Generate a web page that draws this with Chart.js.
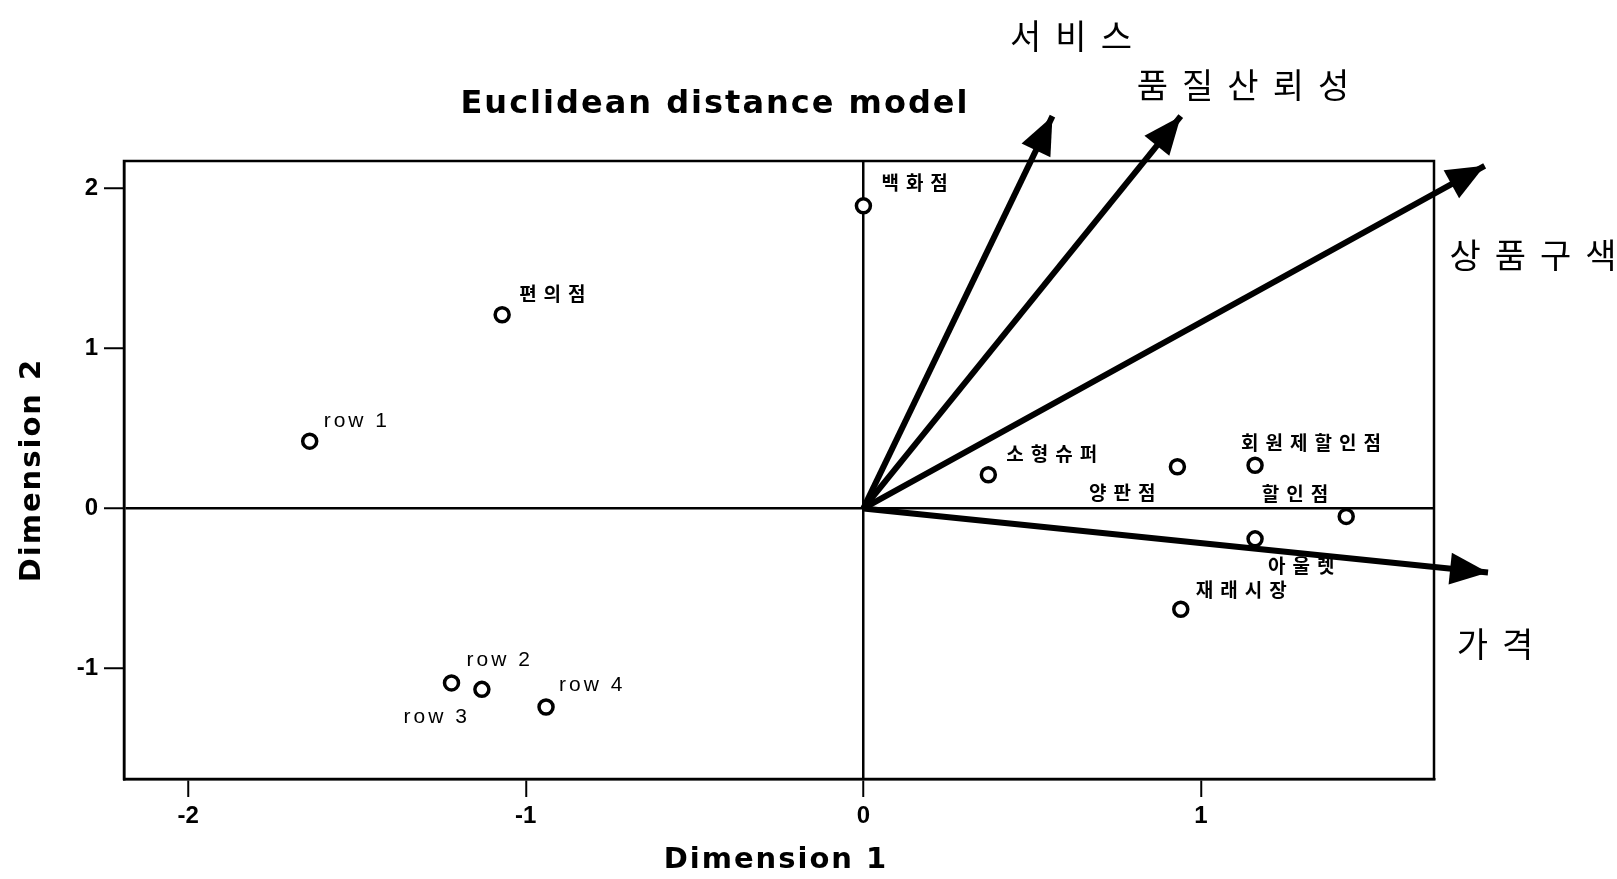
<!DOCTYPE html>
<html>
<head>
<meta charset="utf-8">
<script src="https://cdn.jsdelivr.net/npm/chart.js@4/dist/chart.umd.min.js"></script>
<style>
  html, body { margin: 0; padding: 0; background: #fff; }
  #wrap { width: 1617px; height: 879px; position: relative; }
</style>
</head>
<body>
<div id="wrap"><canvas id="chart"></canvas></div>
<script>
// Store types (row points) in the Euclidean distance model
const storeLabels = ["백화점", "편의점", "row 1", "소형슈퍼", "양판점", "회원제할인점", "할인점", "아울렛", "재래시장", "row 2", "row 3", "row 4"];
const storeDim1 = [0.00, -1.07, -1.64, 0.37, 0.93, 1.16, 1.43, 1.16, 0.94, -1.22, -1.13, -0.94];
const storeDim2 = [1.89, 1.21, 0.42, 0.21, 0.26, 0.27, -0.05, -0.19, -0.63, -1.09, -1.13, -1.24];

// Attribute vectors drawn from the origin
const attrLabels = ["서비스", "품질산뢰성", "상품구색", "가격"];
const attrDim1 = [0.56, 0.94, 1.84, 1.85];
const attrDim2 = [2.45, 2.45, 2.14, -0.40];

const xTickValues = [-2, -1, 0, 1];
const yTickValues = [-1, 0, 1, 2];

// label placement next to each point: [dx, dy, align]
const labelPlacement = [
  [18, -23, "left"], [17, -21, "left"], [14, -20, "left"], [18, -21, "left"],
  [-15, 26, "right"], [-14, -22, "left"], [-11, -23, "right"], [13, 27, "left"],
  [15, -20, "left"], [15, -23, "left"], [-12, 28, "right"], [13, -22, "left"]
];
// where the attribute names sit (canvas px)
const attrLabelPos = [[1078, 36], [1250, 85], [1540, 255], [1502, 644]];

const KR = '"Noto Sans CJK KR", "Noto Sans", sans-serif';

const storePoints = storeDim1.map((x, i) => ({ x, y: storeDim2[i] }));
const vectorSets = attrLabels.map((name, i) => ({
  type: "line",
  label: name,
  data: [{ x: 0, y: 0 }, { x: attrDim1[i], y: attrDim2[i] }],
  borderColor: "#000",
  borderWidth: 6,
  pointRadius: 0,
  clip: false
}));

const decorations = {
  id: "decorations",
  afterDatasetsDraw(chart) {
    const ctx = chart.ctx;
    const xs = chart.scales.x, ys = chart.scales.y;
    const a = chart.chartArea;
    ctx.save();
    // frame
    ctx.strokeStyle = "#000";
    ctx.lineWidth = 2.5;
    ctx.strokeRect(a.left, a.top, a.right - a.left, a.bottom - a.top);

    // arrow heads
    const ox = xs.getPixelForValue(0), oy = ys.getPixelForValue(0);
    ctx.fillStyle = "#000";
    attrLabels.forEach((_, i) => {
      const tx = xs.getPixelForValue(attrDim1[i]), ty = ys.getPixelForValue(attrDim2[i]);
      const ang = Math.atan2(ty - oy, tx - ox);
      const len = 38, half = 16;
      const bx = tx - len * Math.cos(ang), by = ty - len * Math.sin(ang);
      ctx.beginPath();
      ctx.moveTo(tx, ty);
      ctx.lineTo(bx + half * Math.sin(ang), by - half * Math.cos(ang));
      ctx.lineTo(bx - half * Math.sin(ang), by + half * Math.cos(ang));
      ctx.closePath();
      ctx.fill();
    });

    // attribute names
    ctx.font = "400 34px " + KR;
    ctx.letterSpacing = "14px";
    ctx.textAlign = "center";
    ctx.textBaseline = "middle";
    attrLabels.forEach((name, i) => ctx.fillText(name, attrLabelPos[i][0], attrLabelPos[i][1]));
    ctx.letterSpacing = "0px";

    // point labels
    storeLabels.forEach((name, i) => {
      const px = xs.getPixelForValue(storeDim1[i]), py = ys.getPixelForValue(storeDim2[i]);
      const [dx, dy, al] = labelPlacement[i];
      const isRow = name.startsWith("row");
      ctx.font = isRow ? '400 21px "Liberation Sans", Arial, sans-serif' : "700 19px " + KR;
      ctx.letterSpacing = isRow ? "3px" : "7px";
      ctx.textAlign = al;
      ctx.fillText(name, px + dx, py + dy);
    });
    ctx.letterSpacing = "0px";

    // title and axis titles
    ctx.textAlign = "center";
    ctx.font = '700 32px "DejaVu Sans", sans-serif';
    ctx.letterSpacing = "2px";
    ctx.fillText("Euclidean distance model", 715, 105);
    ctx.font = '700 29px "DejaVu Sans", sans-serif';
    ctx.letterSpacing = "2px";
    ctx.fillText("Dimension 1", 776, 860);
    ctx.translate(32, 470);
    ctx.rotate(-Math.PI / 2);
    ctx.fillText("Dimension 2", 0, 0);
    ctx.restore();
  }
};

const zeroLine = (c) => (c.tick && c.tick.value === 0 ? "#000" : "rgba(0,0,0,0)");
const tickFont = { family: '"Liberation Sans", Arial, sans-serif', size: 24, weight: "bold" };

new Chart(document.getElementById("chart"), {
  type: "scatter",
  data: {
    datasets: [
      {
        label: "stores",
        data: storePoints,
        pointStyle: "circle",
        pointRadius: 7,
        pointBorderWidth: 3.5,
        pointBackgroundColor: "#fff",
        pointBorderColor: "#000"
      },
      ...vectorSets
    ]
  },
  options: {
    responsive: true,
    maintainAspectRatio: false,
    animation: false,
    layout: { padding: { top: 161, right: 183, left: 0, bottom: 0 } },
    plugins: { legend: { display: false }, tooltip: { enabled: false } },
    scales: {
      x: {
        type: "linear",
        min: -2.19,
        max: 1.69,
        afterBuildTicks: (s) => { s.ticks = xTickValues.map((v) => ({ value: v })); },
        afterFit: (s) => { s.height = 100; },
        grid: { color: zeroLine, lineWidth: 2.5, tickColor: "#000", tickLength: 18, tickWidth: 2 },
        border: { color: "#000", width: 2.5 },
        ticks: { color: "#000", padding: 5, font: tickFont, callback: (v) => String(v) }
      },
      y: {
        type: "linear",
        min: -1.69,
        max: 2.17,
        afterBuildTicks: (s) => { s.ticks = yTickValues.map((v) => ({ value: v })); },
        afterFit: (s) => { s.width = 124; },
        grid: { color: zeroLine, lineWidth: 2.5, tickColor: "#000", tickLength: 20, tickWidth: 2 },
        border: { color: "#000", width: 2.5 },
        ticks: { color: "#000", padding: 6, font: tickFont, callback: (v) => String(v) }
      }
    }
  },
  plugins: [decorations]
});
</script>
</body>
</html>
